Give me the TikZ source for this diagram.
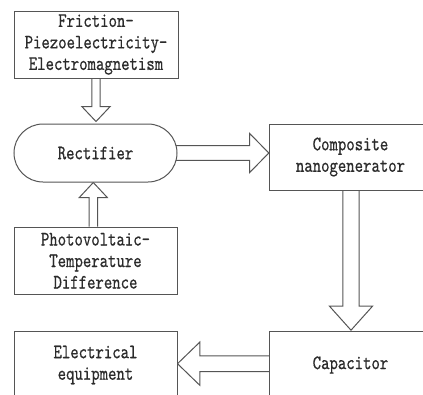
\documentclass[tikz,border=0pt]{standalone}
\usepackage{fontspec}
\newfontfamily\boxfont{lmmono10-regular.otf}[FakeStretch=0.78,FakeBold=0.6]
\usetikzlibrary{calc,backgrounds}
\definecolor{linec}{HTML}{555555}
\definecolor{textc}{HTML}{2B2B2B}
\begin{document}
\begin{tikzpicture}[x=1pt,y=-1pt,
  box/.style={draw=linec, line width=1pt, fill=white, text=textc,
    font=\boxfont\fontsize{20.5}{21.5}\selectfont, align=center, inner sep=0pt},
  barrow/.style={draw=linec, line width=1pt, fill=white, line join=miter}]
\useasboundingbox (0,0) rectangle (423,394);
\node[box, minimum width=164pt, minimum height=67pt] (ft) at (96,44.5) {Friction-\\Piezoelectricity-\\Electromagnetism};
\node[box, rounded corners=29pt, minimum width=163pt, minimum height=58pt] (rec) at (95.5,153) {Rectifier};
\node[box, minimum width=163pt, minimum height=67.5pt] (pv) at (95.5,260.8) {Photovoltaic-\\Temperature\\Difference};
\node[box, minimum width=162.4pt, minimum height=66pt] (cn) at (350.5,157) {Composite\\nanogenerator};
\node[box, minimum width=162.4pt, minimum height=66.6pt] (cap) at (350.5,365) {Capacitor};
\node[box, minimum width=163pt, minimum height=68pt] (ee) at (95.5,365) {Electrical\\equipment};
\begin{scope}[on background layer]
  % Friction box -> Rectifier
  \coordinate (q1) at ($(ft.south|-rec.north)+(0,-2)$);
  \draw[barrow] ($(ft.south)+(-4.2,0)$) -- ($(q1)+(-4.2,-15)$) -- ($(q1)+(-14.2,-15)$) -- (q1)
    -- ($(q1)+(14.2,-15)$) -- ($(q1)+(4.2,-15)$) -- ($(ft.south)+(4.2,0)$);
  % Photovoltaic box -> Rectifier
  \coordinate (p2) at ($(pv.north)+(-2.2,0)$);
  \coordinate (q2) at (p2|-rec.south);
  \draw[barrow] ($(p2)+(-4.2,0)$) -- ($(q2)+(-4.2,15)$) -- ($(q2)+(-14,15)$) -- (q2)
    -- ($(q2)+(14,15)$) -- ($(q2)+(4.2,15)$) -- ($(p2)+(4.2,0)$);
  % Rectifier -> Composite nanogenerator
  \coordinate (q3) at (rec.east-|cn.west);
  \draw[barrow] ($(rec.east)+(-3,-7.3)$) -- ($(q3)+(-19.3,-7.3)$) -- ($(q3)+(-19.3,-19.7)$) -- (q3)
    -- ($(q3)+(-19.3,19.7)$) -- ($(q3)+(-19.3,7.3)$) -- ($(rec.east)+(-3,7.3)$);
  % Composite nanogenerator -> Capacitor
  \coordinate (c4) at ($(cn.south)+(0.5,0)$);
  \coordinate (q4) at ($(c4|-cap.north)+(0,-1)$);
  \draw[barrow] ($(c4)+(-8.2,0)$) -- ($(q4)+(-8.2,-24)$) -- ($(q4)+(-21.5,-24)$) -- (q4)
    -- ($(q4)+(21.5,-24)$) -- ($(q4)+(8.2,-24)$) -- ($(c4)+(8.2,0)$);
  % Capacitor -> Electrical equipment
  \coordinate (c5) at ($(cap.west)+(0,-1.3)$);
  \coordinate (q5) at (c5-|ee.east);
  \draw[barrow] ($(c5)+(0,-7.8)$) -- ($(q5)+(22.3,-7.8)$) -- ($(q5)+(22.3,-21.6)$) -- (q5)
    -- ($(q5)+(22.3,21.6)$) -- ($(q5)+(22.3,7.8)$) -- ($(c5)+(0,7.8)$);
\end{scope}
\end{tikzpicture}
\end{document}
